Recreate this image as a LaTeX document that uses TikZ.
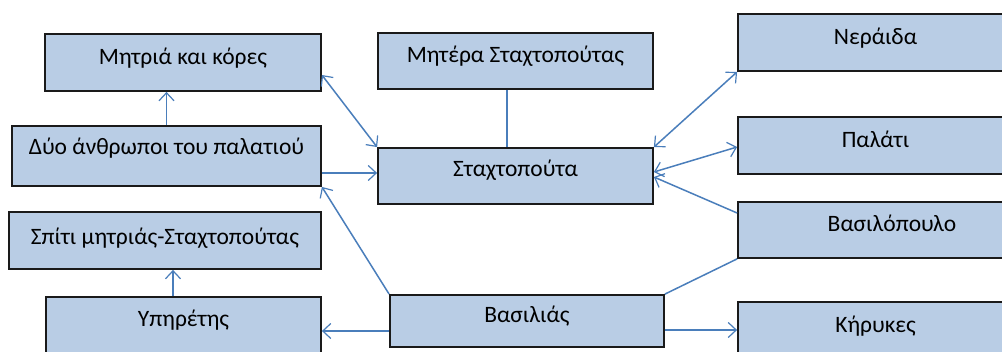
\documentclass[tikz,border=0pt]{standalone}
\usepackage{fontspec}
\setmainfont{Carlito}
\usetikzlibrary{arrows.meta}
\definecolor{boxfill}{HTML}{B9CDE5}
\definecolor{linkblue}{HTML}{4A7EBB}
\definecolor{boxedge}{HTML}{1A1A1A}
\tikzset{
  box/.style={draw=boxedge, fill=boxfill, line width=1.8pt, inner sep=0pt,
    font=\fontsize{23.5}{28}\selectfont, text height=14pt, text depth=#1},
  box/.default=9pt,
  link/.style={draw=linkblue, line width=1.5pt,
    >={Straight Barb[length=8pt, width=15pt, line width=1.2pt]}},
}
\begin{document}
\begin{tikzpicture}[x=1pt, y=-1pt]
\useasboundingbox (0,0) rectangle (1002,352);
\clip (0,0) rectangle (1002,352);
\fill[white] (0,0) rectangle (1002,352);

% left column
\node[box=9pt,  minimum width=276pt, minimum height=57pt] (mitria) at (183,62.5) {Μητριά και κόρες};
\node[box=16pt, minimum width=309pt, minimum height=60pt] (dyo) at (166.5,156) {Δύο άνθρωποι του παλατιού};
\node[box=5pt,  minimum width=312pt, minimum height=57pt] (spiti) at (165,240.5) {Σπίτι μητριάς-Σταχτοπούτας};
\node[box=11pt, minimum width=275pt, minimum height=57pt] (ypiretis) at (183.5,325.5) {Υπηρέτης};

% middle column
\node[box=10pt, minimum width=275pt, minimum height=56pt] (mitera) at (515.5,61) {Μητέρα Σταχτοπούτας};
\node[box=13pt, minimum width=275pt, minimum height=56pt] (stax) at (515.5,176) {Σταχτοπούτα};
\node[box=10pt, minimum width=274pt, minimum height=52pt] (vasilias) at (527,321) {Βασιλιάς};

% right column
\node[box=9pt,  minimum width=275pt, minimum height=57pt] (neraida) at (875.5,42.5) {Νεράιδα};
\node[box=9pt,  minimum width=275pt, minimum height=57pt] (palati) at (875.5,145.5) {Παλάτι};
\node[box=10pt, minimum width=308pt, minimum height=56pt] (vasilopoulo) at (892,230) {Βασιλόπουλο};
\node[box=9pt,  minimum width=275pt, minimum height=57pt] (kirykes) at (875.5,330.5) {Κήρυκες};

% connectors
\draw[link, ->] (dyo.north) -- (dyo.north |- mitria.south);
\draw[link, <->] (mitria.east |- 0,75) -- (stax.north west);
\draw[link, ->] (dyo.east |- 0,173) -- (stax.west |- 0,173);
\draw[link] (mitera.south -| 507,0) -- (stax.north -| 507,0);
\draw[link, <->] (stax.north east) -- (neraida.south west);
\draw[link, <->] (stax.east |- 0,172) -- (palati.west |- 0,147);
\draw[link, ->] (vasilopoulo.west |- 0,213) -- (stax.east |- 0,177);
\draw[link] (vasilias.north east) -- (vasilopoulo.south west);
\draw[link, ->] (vasilias.east |- 0,330) -- (kirykes.west |- 0,330);
\draw[link, ->] (vasilias.west |- 0,331) -- (ypiretis.east |- 0,331);
\draw[link, ->] (vasilias.north west) -- (dyo.south east);
\draw[link, ->] (ypiretis.north -| 173,0) -- (spiti.south -| 173,0);
\end{tikzpicture}
\end{document}
